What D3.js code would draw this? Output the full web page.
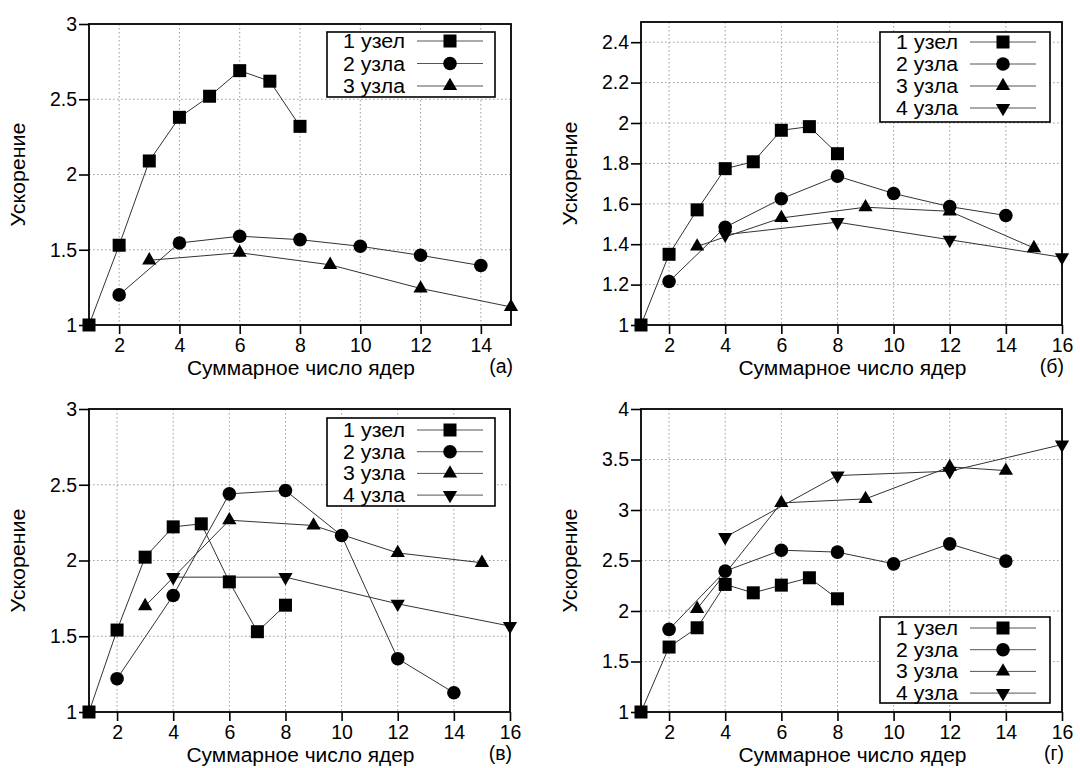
<!DOCTYPE html>
<html><head><meta charset="utf-8">
<script src="https://cdn.jsdelivr.net/npm/d3@7"></script>
<style>body{margin:0;background:#fff}svg{display:block}</style>
</head><body><svg id="c" width="1080" height="768"></svg>
<script>
const seriesNames = ["1 узел", "2 узла", "3 узла", "4 узла"];
const xNode1 = [1, 2, 3, 4, 5, 6, 7, 8];
const xNode2 = [2, 4, 6, 8, 10, 12, 14];
const xNode3 = [3, 6, 9, 12, 15];
const xNode3g = [3, 6, 9, 12, 14];
const xNode4 = [4, 8, 12, 16];

const speedupA1 = [1.00, 1.53, 2.09, 2.38, 2.52, 2.69, 2.62, 2.32];
const speedupA2 = [1.20, 1.545, 1.59, 1.567, 1.523, 1.463, 1.395];
const speedupA3 = [1.43, 1.48, 1.40, 1.243, 1.12];

const speedupB1 = [1.00, 1.35, 1.57, 1.774, 1.808, 1.964, 1.982, 1.848];
const speedupB2 = [1.215, 1.484, 1.625, 1.737, 1.651, 1.586, 1.542];
const speedupB3 = [1.389, 1.53, 1.583, 1.563, 1.381];
const speedupB4 = [1.447, 1.509, 1.422, 1.335];

const speedupV1 = [1.00, 1.541, 2.022, 2.222, 2.242, 1.859, 1.53, 1.705];
const speedupV2 = [1.22, 1.769, 2.44, 2.462, 2.165, 1.352, 1.127];
const speedupV3 = [1.699, 2.266, 2.231, 2.05, 1.985];
const speedupV4 = [1.89, 1.89, 1.714, 1.567];

const speedupG1 = [1.00, 1.643, 1.834, 2.263, 2.18, 2.256, 2.329, 2.121];
const speedupG2 = [1.818, 2.395, 2.602, 2.583, 2.467, 2.665, 2.494];
const speedupG3 = [2.022, 3.07, 3.11, 3.427, 3.39];
const speedupG4 = [2.731, 3.341, 3.384, 3.648];

const xTicksA = [2, 4, 6, 8, 10, 12, 14];
const xTicks16 = [2, 4, 6, 8, 10, 12, 14, 16];
const yTicksA = [1, 1.5, 2, 2.5, 3];
const yTicksB = [1, 1.2, 1.4, 1.6, 1.8, 2, 2.2, 2.4];
const yTicksV = [1, 1.5, 2, 2.5, 3];
const yTicksG = [1, 1.5, 2, 2.5, 3, 3.5, 4];
const panelLabels = ["(а)", "(б)", "(в)", "(г)"];
const xTitle = "Суммарное число ядер";
const yTitle = "Ускорение";

const FONT = "'Liberation Sans', Arial, Helvetica, sans-serif";
const svg = d3.select("#c");

const symbols = [d3.symbolSquare, d3.symbolCircle, d3.symbolTriangle, d3.symbolTriangle];
const symSizes = [169, 145, 88, 88];
const symRot = [0, 0, 0, 180];

function zip(xs, ys) { return xs.map((x, i) => ({ x: x, y: ys[i] })); }

const panels = [
  { box: [89, 511, 24, 325], xd: [1, 15], yd: [1, 3], xt: xTicksA, yt: yTicksA, label: panelLabels[0],
    series: [zip(xNode1, speedupA1), zip(xNode2, speedupA2), zip(xNode3, speedupA3)],
    legend: { x: 327, y: 32, w: 168, h: 65, row0: 41, dy: 22.5 } },
  { box: [641, 1062, 22, 325], xd: [1, 16], yd: [1, 2.5], xt: xTicks16, yt: yTicksB, label: panelLabels[1],
    series: [zip(xNode1, speedupB1), zip(xNode2, speedupB2), zip(xNode3, speedupB3), zip(xNode4, speedupB4)],
    legend: { x: 880, y: 32, w: 170, h: 90, row0: 42, dy: 22 } },
  { box: [89, 510, 409, 712], xd: [1, 16], yd: [1, 3], xt: xTicks16, yt: yTicksV, label: panelLabels[2],
    series: [zip(xNode1, speedupV1), zip(xNode2, speedupV2), zip(xNode3, speedupV3), zip(xNode4, speedupV4)],
    legend: { x: 327, y: 418, w: 168, h: 88, row0: 430, dy: 21.7 } },
  { box: [641, 1062, 409, 712], xd: [1, 16], yd: [1, 4], xt: xTicks16, yt: yTicksG, label: panelLabels[3],
    series: [zip(xNode1, speedupG1), zip(xNode2, speedupG2), zip(xNode3g, speedupG3), zip(xNode4, speedupG4)],
    legend: { x: 880, y: 617, w: 170, h: 86, row0: 628, dy: 21.7 } }
];

function drawMarker(g, k, cx, cy) {
  g.append("path")
    .attr("d", d3.symbol().type(symbols[k]).size(symSizes[k])())
    .attr("transform", `translate(${cx},${cy}) rotate(${symRot[k]})`)
    .attr("fill", "#000");
}

panels.forEach(p => {
  const [L, R, T, B] = p.box;
  const x = d3.scaleLinear().domain(p.xd).range([L, R]);
  const y = d3.scaleLinear().domain(p.yd).range([B, T]);
  const g = svg.append("g");

  // grid
  g.append("g").selectAll("line").data(p.xt.filter(v => x(v) < R - 1)).join("line")
    .attr("x1", d => x(d)).attr("x2", d => x(d)).attr("y1", T).attr("y2", B)
    .attr("stroke", "#9a9a9a").attr("stroke-width", 1).attr("stroke-dasharray", "1.5,2.5");
  g.append("g").selectAll("line").data(p.yt.filter(v => y(v) > T + 1 && y(v) < B - 1)).join("line")
    .attr("x1", L).attr("x2", R).attr("y1", d => y(d)).attr("y2", d => y(d))
    .attr("stroke", "#9a9a9a").attr("stroke-width", 1).attr("stroke-dasharray", "1.5,2.5");

  // axes
  const xAxis = d3.axisBottom(x).tickValues(p.xt).tickSize(9).tickSizeOuter(0).tickPadding(4).tickFormat(d3.format("d"));
  const ga = g.append("g").attr("transform", `translate(0,${B})`).call(xAxis);
  const yAxis = d3.axisLeft(y).tickValues(p.yt).tickSize(10).tickSizeOuter(0).tickPadding(2).tickFormat(d => String(d));
  const gy = g.append("g").attr("transform", `translate(${L},0)`).call(yAxis);
  [ga, gy].forEach(a => {
    a.select(".domain").remove();
    a.selectAll(".tick line").attr("stroke", "#000").attr("stroke-width", 1.6);
    a.selectAll(".tick text").attr("fill", "#000").style("font-family", FONT).style("font-size", "19.5px");
  });

  // frame
  g.append("rect").attr("x", L).attr("y", T).attr("width", R - L).attr("height", B - T)
    .attr("fill", "none").attr("stroke", "#000").attr("stroke-width", 1.8);

  // lines and markers
  const line = d3.line().x(d => x(d.x)).y(d => y(d.y));
  p.series.forEach((s, k) => {
    g.append("path").datum(s).attr("d", line).attr("fill", "none")
      .attr("stroke", "#333").attr("stroke-width", 1);
  });
  p.series.forEach((s, k) => {
    s.forEach(d => drawMarker(g, k, x(d.x), y(d.y)));
  });

  // titles
  g.append("text").attr("x", (L + R) / 2 + 1).attr("y", B + 50).attr("text-anchor", "middle")
    .attr("textLength", 228).attr("lengthAdjust", "spacingAndGlyphs")
    .style("font-family", FONT).style("font-size", "19.5px").text(xTitle);
  g.append("text").attr("transform", `translate(${L - 64},${(T + B) / 2}) rotate(-90)`)
    .attr("text-anchor", "middle").attr("textLength", 104).attr("lengthAdjust", "spacingAndGlyphs")
    .style("font-family", FONT).style("font-size", "19.5px").text(yTitle);
  g.append("text").attr("x", R + 2).attr("y", B + 48).attr("text-anchor", "end")
    .style("font-family", FONT).style("font-size", "19.5px").text(p.label);

  // legend
  const lg = p.legend;
  const gl = g.append("g");
  gl.append("rect").attr("x", lg.x).attr("y", lg.y).attr("width", lg.w).attr("height", lg.h)
    .attr("fill", "#fff").attr("stroke", "#000").attr("stroke-width", 1.6);
  p.series.forEach((s, k) => {
    const ry = lg.row0 + k * lg.dy;
    gl.append("text").attr("x", lg.x + 16).attr("y", ry + 7)
      .attr("textLength", 62).attr("lengthAdjust", "spacingAndGlyphs")
      .style("font-family", FONT).style("font-size", "19.5px").text(seriesNames[k]);
    gl.append("line").attr("x1", lg.x + 90).attr("x2", lg.x + 156).attr("y1", ry).attr("y2", ry)
      .attr("stroke", "#555").attr("stroke-width", 1);
    drawMarker(gl, k, lg.x + 123, ry);
  });
});
</script>
</body></html>
